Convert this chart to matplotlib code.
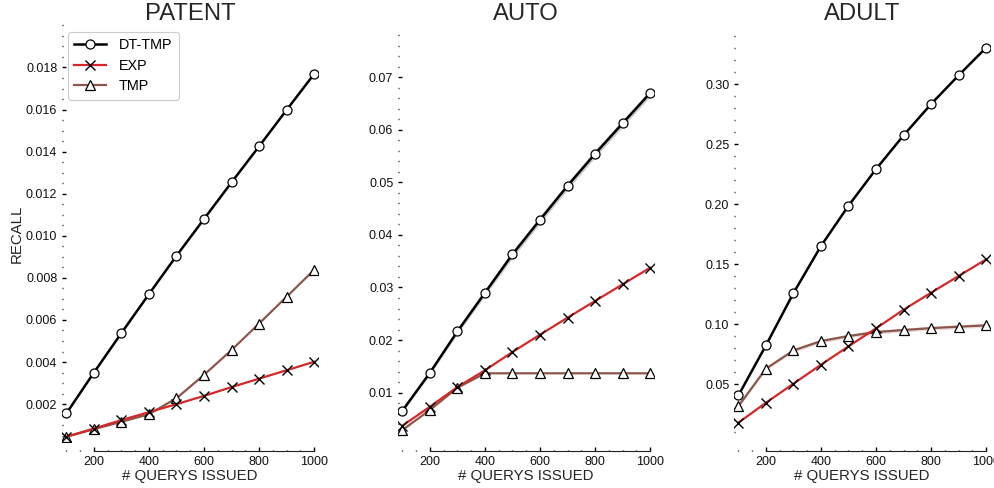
import matplotlib
matplotlib.use("Agg")
import matplotlib.pyplot as plt
from matplotlib.ticker import MultipleLocator, FixedLocator
import numpy as np

plt.rcParams['font.family'] = ['Liberation Sans', 'DejaVu Sans']

# ---------------- data ----------------
queries = [100, 200, 300, 400, 500, 600, 700, 800, 900, 1000]
titles = ["PATENT", "AUTO", "ADULT"]
series_names = ["DT-TMP", "EXP", "TMP"]

patent_dt = [0.00156, 0.00350, 0.00538, 0.00723, 0.00905, 0.01080, 0.01254, 0.01425, 0.01598, 0.01769]
patent_exp = [0.00045, 0.00084, 0.00124, 0.00162, 0.00200, 0.00239, 0.00281, 0.00321, 0.00361, 0.00401]
patent_tmp = [0.00045, 0.00081, 0.00116, 0.00152, 0.00228, 0.00339, 0.00457, 0.00583, 0.00710, 0.00838]

auto_dt = [0.00658, 0.01380, 0.02167, 0.02900, 0.03631, 0.04287, 0.04933, 0.05542, 0.06120, 0.06696]
auto_exp = [0.00373, 0.00734, 0.01108, 0.01426, 0.01774, 0.02103, 0.02426, 0.02743, 0.03060, 0.03376]
auto_tmp = [0.00291, 0.00671, 0.01095, 0.01369, 0.01369, 0.01369, 0.01369, 0.01369, 0.01369, 0.01369]

adult_dt = [0.0408, 0.0825, 0.1261, 0.1653, 0.1989, 0.2294, 0.2575, 0.2836, 0.3075, 0.3306]
adult_exp = [0.0181, 0.0347, 0.0506, 0.0664, 0.0817, 0.0967, 0.1122, 0.1264, 0.1403, 0.1542]
adult_tmp = [0.0319, 0.0631, 0.0783, 0.0861, 0.0903, 0.0936, 0.0953, 0.0969, 0.0981, 0.0992]

# confidence half-widths (read by eye)
auto_dt_ci = [0.0003, 0.0004, 0.0005, 0.0006, 0.0007, 0.0007, 0.0007, 0.0007, 0.0007, 0.0007]
adult_tmp_ci = [0.0010, 0.0012, 0.0014, 0.0016, 0.0016, 0.0016, 0.0016, 0.0016, 0.0016, 0.0016]

x_major = [200, 400, 600, 800, 1000]
patent_yticks = [0.002, 0.004, 0.006, 0.008, 0.010, 0.012, 0.014, 0.016, 0.018]
auto_yticks = [0.01, 0.02, 0.03, 0.04, 0.05, 0.06, 0.07]
adult_yticks = [0.05, 0.10, 0.15, 0.20, 0.25, 0.30]

panels = [
    dict(dt=patent_dt, exp=patent_exp, tmp=patent_tmp, yt=patent_yticks, fmt="%.3f",
         ylim=(0.0002, 0.02002), minor=0.0005, band=None),
    dict(dt=auto_dt, exp=auto_exp, tmp=auto_tmp, yt=auto_yticks, fmt="%.2f",
         ylim=(0.00063, 0.0799), minor=0.002, band=("dt", auto_dt_ci)),
    dict(dt=adult_dt, exp=adult_exp, tmp=adult_tmp, yt=adult_yticks, fmt="%.2f",
         ylim=(0.0020, 0.3495), minor=0.01, band=("tmp", adult_tmp_ci)),
]

# ---------------- style ----------------
BLACK = "#000000"
RED = "#d62728"
BROWN = "#8c564b"

W, H = 995, 488
fig = plt.figure(figsize=(W / 100, H / 100), dpi=100)

lefts_px = [62, 398, 734]
width_px = 256.5
top_px, bottom_px = 25, 442

for i, p in enumerate(panels):
    ax = fig.add_axes([lefts_px[i] / W, 1 - bottom_px / H, width_px / W, (bottom_px - top_px) / H])
    ax.set_facecolor("white")

    if p["band"] is not None:
        key, ci = p["band"]
        base = np.array(p[key])
        ci = np.array(ci)
        col = BLACK if key == "dt" else BROWN
        ax.fill_between(queries, base - ci, base + ci, color=col, alpha=0.2, lw=0, zorder=1)

    ax.plot(queries, p["dt"], color=BLACK, lw=1.8, marker="o", ms=6.5, mfc="white",
            mec=BLACK, mew=0.9, label="DT-TMP", zorder=3)
    ax.plot(queries, p["tmp"], color=BROWN, lw=1.6, marker="^", ms=6.5, mfc="white",
            mec=BLACK, mew=0.9, label="TMP", zorder=2)
    ax.plot(queries, p["exp"], color=RED, lw=1.6, marker="x", ms=6.5, mfc="none",
            mec=BLACK, mew=1.0, label="EXP", zorder=2.5)

    ax.set_xlim(84, 1016)
    ax.set_ylim(*p["ylim"])

    ax.xaxis.set_major_locator(FixedLocator(x_major))
    ax.xaxis.set_minor_locator(MultipleLocator(50))
    ax.yaxis.set_major_locator(FixedLocator(p["yt"]))
    ax.yaxis.set_minor_locator(MultipleLocator(p["minor"]))
    ax.set_yticklabels([p["fmt"] % v for v in p["yt"]])
    ax.set_xticklabels([str(v) for v in x_major])

    for s in ["top", "right", "left"]:
        ax.spines[s].set_visible(False)
    ax.spines["bottom"].set_position(("outward", 6.8))
    ax.spines["bottom"].set_bounds(200, 1000)
    ax.spines["bottom"].set_linewidth(0.8)
    ax.spines["bottom"].set_color("#222222")

    ax.tick_params(axis="both", which="major", direction="in", length=3, width=1,
                   color="black", labelsize=9, labelcolor="#111111", pad=3.4)
    ax.tick_params(axis="both", which="minor", direction="in", length=0.8, width=1,
                   color="black")

    ax.set_title(titles[i], fontsize=17.2, color="#262626", pad=3.4)
    ax.set_xlabel("# QUERYS ISSUED", fontsize=10.8, color="#262626", labelpad=0.5)
    if i == 0:
        ax.set_ylabel("RECALL", fontsize=10.8, color="#262626", labelpad=1.5)
        handles, labels = ax.get_legend_handles_labels()
        order = [labels.index(n) for n in series_names]
        leg = ax.legend([handles[k] for k in order], [labels[k] for k in order],
                        loc="upper left", bbox_to_anchor=(6 / width_px, 1 - 7 / (bottom_px - top_px)),
                        borderaxespad=0, fontsize=10.4, frameon=True, fancybox=True,
                        handlelength=2.2, handletextpad=0.85, labelspacing=0.45,
                        borderpad=0.45)
        leg.get_frame().set_edgecolor("#cccccc")
        leg.get_frame().set_linewidth(0.8)
        leg.get_frame().set_alpha(1)

fig.savefig("out.png", dpi=100, facecolor="white")
